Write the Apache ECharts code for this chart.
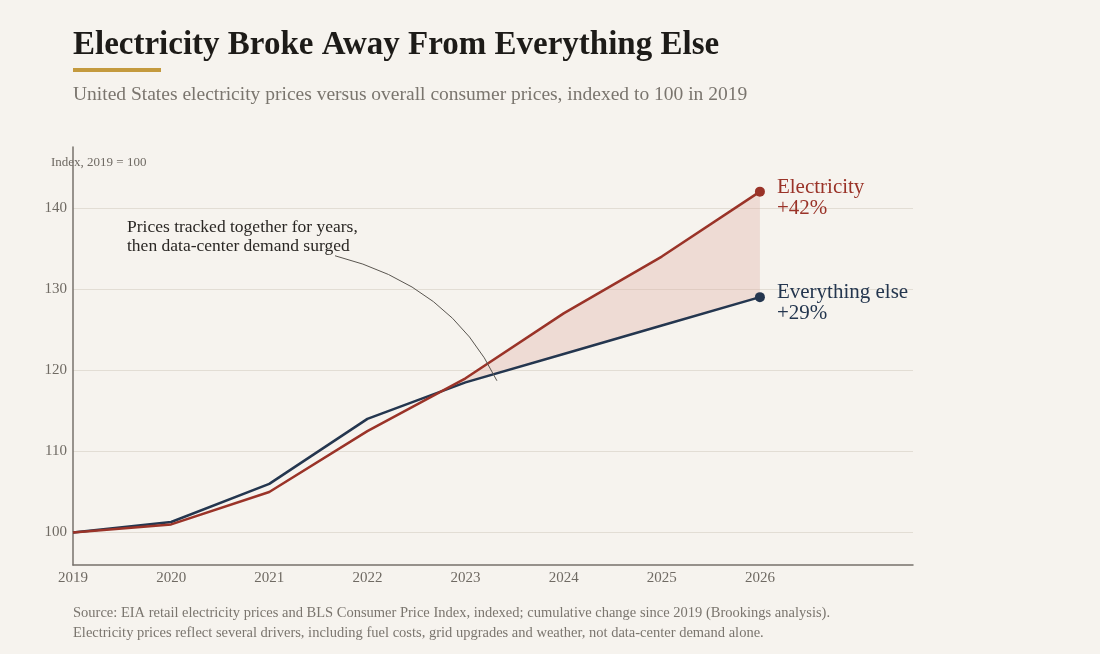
<!DOCTYPE html>
<html>
<head>
<meta charset="utf-8">
<script src="https://cdn.jsdelivr.net/npm/echarts@6/dist/echarts.min.js"></script>
<style>
  html, body { margin: 0; padding: 0; background: #f6f3ee; }
  #chart { width: 1100px; height: 654px; }
</style>
</head>
<body>
<div id="chart"></div>
<script>
// years on the x axis
const years = [2019, 2020, 2021, 2022, 2023, 2024, 2025, 2026]
// index values, 2019 = 100
const electricity = [100, 101, 105, 112.5, 119, 127, 134, 142]
const everythingElse = [100, 101.3, 106, 114, 118.5, 122, 125.5, 129]
const yTicks = [100, 110, 120, 130, 140]

const RED = '#9a3328'
const NAVY = '#24364f'
const GREY = '#6f6a63'
const SERIF = '"Liberation Serif", "DejaVu Serif", serif'

const pairs = (arr) => years.map((y, i) => [y, arr[i]])

// points for the gap polygon: where electricity runs above the rest
function gapPolygon() {
    const top = []
    const bottom = []
    for (let i = 1; i < years.length; i++) {
        const d0 = electricity[i - 1] - everythingElse[i - 1]
        const d1 = electricity[i] - everythingElse[i]
        if (d0 <= 0 && d1 > 0) {
            // crossing between the two years
            const t = -d0 / (d1 - d0)
            const x = years[i - 1] + t
            const y = everythingElse[i - 1] + t * (everythingElse[i] - everythingElse[i - 1])
            top.push([x, y])
            bottom.push([x, y])
        }
        if (d1 > 0) {
            top.push([years[i], electricity[i]])
            bottom.push([years[i], everythingElse[i]])
        }
    }
    return top.concat(bottom.reverse())
}

const myChart = echarts.init(document.getElementById('chart'))

const endSize = (n) => (val, params) => params.dataIndex === n - 1 ? 10 : 0

const endLabel = (color, text) => ({
    show: true,
    position: 'right',
    distance: 12,
    offset: [0, 6],
    color: color,
    fontSize: 21,
    lineHeight: 21,
    fontFamily: SERIF,
    textBorderWidth: 0,
    textBorderColor: 'transparent',
    formatter: (p) => p.dataIndex === years.length - 1 ? text : ''
})

const annotationText = {
    type: 'text', left: 127, top: 218,
    style: {
        text: 'Prices tracked together for years,\nthen data-center demand surged',
        font: '17.5px ' + SERIF, fill: '#2a2724', lineHeight: 19
    }
}
const underline = { type: 'rect', left: 73, top: 68, shape: { width: 88, height: 4 }, style: { fill: '#c49a3e' } }

const option = {
    backgroundColor: '#f6f3ee',
    animation: false,
    textStyle: { fontFamily: SERIF },
    title: [
        {
            text: 'Electricity Broke Away From Everything Else',
            left: 73, top: 29, padding: 0,
            textStyle: { fontFamily: SERIF, fontSize: 33, fontWeight: 'bold', color: '#1d1b18' }
        },
        {
            text: 'United States electricity prices versus overall consumer prices, indexed to 100 in 2019',
            left: 73, top: 85, padding: 0,
            textStyle: { fontFamily: SERIF, fontSize: 19.5, fontWeight: 'normal', color: '#7a756e' }
        },
        {
            text: 'Source: EIA retail electricity prices and BLS Consumer Price Index, indexed; cumulative change since 2019 (Brookings analysis).\nElectricity prices reflect several drivers, including fuel costs, grid upgrades and weather, not data-center demand alone.',
            left: 73, top: 603, padding: 0,
            textStyle: { fontFamily: SERIF, fontSize: 14.5, fontWeight: 'normal', color: '#7a756e', lineHeight: 20 }
        }
    ],
    graphic: [underline, annotationText],
    grid: { left: 73, right: 187, top: 147, bottom: 89 },
    xAxis: {
        type: 'value', min: 2019, max: 2027.56, interval: 1,
        axisLine: { lineStyle: { color: '#77726b', width: 1.5 } },
        axisTick: { show: false },
        splitLine: { show: false },
        axisLabel: {
            color: GREY, fontSize: 15, margin: 6,
            formatter: (v) => v > 2026 ? '' : String(v)
        }
    },
    yAxis: {
        type: 'value', min: 96, max: 147.5,
        name: 'Index, 2019 = 100',
        nameLocation: 'end',
        nameGap: 8,
        nameTextStyle: { color: GREY, fontSize: 13, align: 'left', padding: [0, 0, -30, -22] },
        axisLine: { show: true, lineStyle: { color: '#77726b', width: 1.5 } },
        axisTick: { show: false, customValues: yTicks },
        splitLine: { show: true, lineStyle: { color: '#e2ddd4', width: 1 } },
        axisLabel: { color: GREY, fontSize: 15, margin: 6, customValues: yTicks }
    },
    series: [
        {
            type: 'custom',
            silent: true,
            z: 1,
            renderItem: (params, api) => {
                if (params.dataIndex !== 0) return null
                const pts = gapPolygon().map((p) => api.coord(p))
                return { type: 'polygon', shape: { points: pts }, style: { fill: 'rgba(218, 165, 152, 0.3)' } }
            },
            data: [[2019, 100]]
        },
        {
            type: 'line',
            name: 'Everything else',
            data: pairs(everythingElse),
            z: 3,
            symbol: 'circle',
            symbolSize: endSize(years.length),
            lineStyle: { color: NAVY, width: 2.5 },
            itemStyle: { color: NAVY },
            label: endLabel(NAVY, 'Everything else\n+29%')
        },
        {
            type: 'line',
            name: 'Electricity',
            data: pairs(electricity),
            z: 4,
            symbol: 'circle',
            symbolSize: endSize(years.length),
            lineStyle: { color: RED, width: 2.5 },
            itemStyle: { color: RED },
            label: endLabel(RED, 'Electricity\n+42%')
        }
    ]
}

myChart.setOption(option)

// annotation leader line, anchored in data space
const a = myChart.convertToPixel({ gridIndex: 0 }, [2021.67, 134.1])
const c = myChart.convertToPixel({ gridIndex: 0 }, [2022.85, 130.5])
const b = myChart.convertToPixel({ gridIndex: 0 }, [2023.32, 118.7])
myChart.setOption({
    graphic: [
        underline,
        annotationText,
        {
            type: 'bezierCurve',
            z: 10,
            shape: { x1: a[0], y1: a[1], x2: b[0], y2: b[1], cpx1: c[0], cpy1: c[1] },
            style: { stroke: '#5a5650', lineWidth: 1, fill: null }
        }
    ]
})
</script>
</body>
</html>
